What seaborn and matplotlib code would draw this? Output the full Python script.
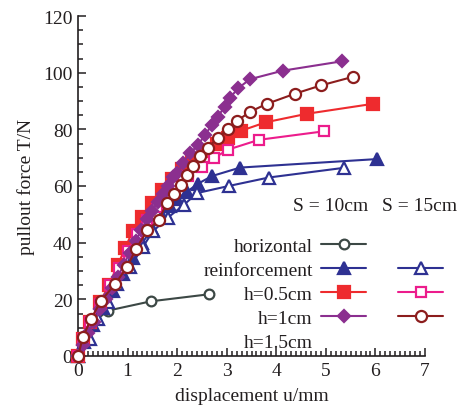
import matplotlib
matplotlib.use("Agg")
import matplotlib.pyplot as plt
import seaborn as sns
import pandas as pd
from matplotlib.lines import Line2D
from matplotlib.ticker import MultipleLocator

# ---- data ----
horiz_x = [0, 0.1, 0.25, 0.6, 1.47, 2.65]
horiz_y = [0, 5, 11, 16, 19.3, 21.8]

tri10_x = [0, 0.12, 0.3, 0.5, 0.7, 0.9, 1.1, 1.3, 1.5, 1.7, 1.85, 2.0, 2.2, 2.42, 2.7, 3.27, 6.03]
tri10_y = [0, 5, 11, 17, 23, 29, 34.5, 40, 45, 49.5, 53, 55.5, 58, 60.8, 63.5, 66.5, 69.5]

tri15_x = [0, 0.24, 0.4, 0.6, 0.79, 1.05, 1.31, 1.51, 1.81, 2.14, 2.4, 3.04, 3.85, 5.36]
tri15_y = [0, 6, 13, 19, 25.4, 31.4, 38.5, 44, 48.8, 53.4, 57.5, 60, 63, 66.4]

sq10_x = [0, 0.1, 0.25, 0.45, 0.62, 0.8, 0.95, 1.1, 1.3, 1.5, 1.7, 1.9, 2.1, 2.3, 2.55, 2.8, 3.02, 3.29, 3.79, 4.62, 5.95]
sq10_y = [0, 6, 12, 19, 25, 32, 38, 44, 49, 54, 58.5, 62.5, 66, 69.5, 72.5, 75, 77, 79.5, 82.5, 85.5, 89]

sq15_x = [0, 0.1, 0.25, 0.45, 0.65, 0.82, 1.0, 1.2, 1.4, 1.6, 1.8, 2.0, 2.22, 2.5, 2.74, 3.02, 3.65, 4.96]
sq15_y = [0, 6, 12, 18.5, 25, 31, 37, 43, 48, 52.5, 56.5, 60, 63.6, 66.8, 69.8, 72.8, 76.3, 79.3]

dia10_x = [0, 0.1, 0.2, 0.32, 0.45, 0.56, 0.68, 0.8, 0.92, 1.04, 1.16, 1.28, 1.39, 1.49, 1.61, 1.71,
           1.81, 1.92, 2.0, 2.12, 2.26, 2.42, 2.56, 2.7, 2.82, 2.96, 3.06, 3.23, 3.47, 4.13, 5.32]
dia10_y = [0, 4, 8, 12, 16.5, 20, 24, 28, 32, 36.5, 40.5, 44.5, 48.4, 51.2, 54.4, 57.2,
           60, 63.2, 64.5, 68, 71.5, 74.5, 78, 81.5, 84.5, 88, 91, 94.5, 97.7, 100.7, 104]

cir15_x = [0, 0.1, 0.26, 0.46, 0.75, 0.99, 1.17, 1.4, 1.63, 1.79, 1.94, 2.07, 2.2, 2.32, 2.46, 2.62,
           2.82, 3.02, 3.21, 3.47, 3.81, 4.38, 4.9, 5.54]
cir15_y = [0, 6.7, 13, 19.4, 25.4, 31.4, 37.8, 44.3, 48, 54, 57.2, 60.4, 63.8, 67, 70.5, 73.5,
           77, 80, 83, 86.2, 89, 92.6, 95.5, 98.5]

row_labels = ["horizontal", "reinforcement", "h=0.5cm", "h=1cm", "h=1.5cm"]
col_headers = ["S = 10cm", "S = 15cm"]
x_ticks = [0, 1, 2, 3, 4, 5, 6, 7]
y_ticks = [0, 20, 40, 60, 80, 100, 120]

# ---- styles ----
C_GRAY = "#3c4845"
C_NAVY = "#2e3192"
C_RED = "#ee2b2e"
C_PINK = "#ec1c8c"
C_PURPLE = "#8b2f8f"
C_BROWN = "#8c1d1d"
FS = 14

sns.set_style("ticks")
plt.rcParams["font.family"] = ["Liberation Serif", "DejaVu Serif"]
plt.rcParams["text.color"] = "#231f20"
plt.rcParams["axes.labelcolor"] = "#231f20"
plt.rcParams["xtick.color"] = "#231f20"
plt.rcParams["ytick.color"] = "#231f20"

fig = plt.figure(figsize=(4.59, 4.10), dpi=100)
ax = fig.add_axes([78 / 459, 53 / 410, 347 / 459, 340 / 410])

series = [
    (horiz_x, horiz_y, C_GRAY, "o", "white", 7),
    (tri10_x, tri10_y, C_NAVY, "^", C_NAVY, 8.5),
    (tri15_x, tri15_y, C_NAVY, "^", "white", 8.5),
    (sq10_x, sq10_y, C_RED, "s", C_RED, 8),
    (sq15_x, sq15_y, C_PINK, "s", "white", 7.5),
    (dia10_x, dia10_y, C_PURPLE, "D", C_PURPLE, 6),
    (cir15_x, cir15_y, C_BROWN, "o", "white", 8),
]

for i, (xs, ys, col, mk, fc, ms) in enumerate(series):
    df = pd.DataFrame({"x": xs, "y": ys})
    sns.lineplot(data=df, x="x", y="y", ax=ax, sort=False, color=col, lw=1.5,
                 marker=mk, markersize=ms, markerfacecolor=fc, markeredgecolor=col,
                 markeredgewidth=1.6, clip_on=False, zorder=3 + i)

ax.set_xlim(0, 7)
ax.set_ylim(0, 120)
ax.set_xticks(x_ticks)
ax.set_yticks(y_ticks)
ax.xaxis.set_minor_locator(MultipleLocator(0.1))
ax.yaxis.set_minor_locator(MultipleLocator(5))
ax.tick_params(which="both", direction="in", labelsize=FS, width=1.1)
ax.tick_params(which="major", length=6)
ax.tick_params(which="minor", length=3.5)
ax.tick_params(axis="x", pad=4)
ax.tick_params(axis="y", pad=4)
for s in ["top", "right"]:
    ax.spines[s].set_visible(False)
for s in ["left", "bottom"]:
    ax.spines[s].set_linewidth(1.2)
    ax.spines[s].set_color("#231f20")

ax.set_xlabel("displacement u/mm", fontsize=FS, labelpad=6)
ax.set_ylabel("pullout force T/N", fontsize=FS, labelpad=6)

# ---- legend ----
def h(col, mk, fc, ms):
    return Line2D([], [], color=col, lw=1.5, marker=mk, markersize=ms,
                  markerfacecolor=fc, markeredgecolor=col, markeredgewidth=1.6)

blank = Line2D([], [], linestyle="none")
handles = [
    h(C_GRAY, "o", "white", 7),
    h(C_NAVY, "^", C_NAVY, 8.5),
    h(C_RED, "s", C_RED, 8),
    h(C_PURPLE, "D", C_PURPLE, 6),
    blank,
    blank,
    h(C_NAVY, "^", "white", 8.5),
    h(C_PINK, "s", "white", 7.5),
    h(C_BROWN, "o", "white", 8),
    blank,
]
labels = row_labels + ["", "", "", "", ""]
leg = ax.legend(handles, labels, ncol=2, markerfirst=False, frameon=False,
                fontsize=FS, handlelength=2.3, handletextpad=0.45, columnspacing=1.2,
                labelspacing=0.33, borderpad=0, borderaxespad=0,
                loc="upper right", bbox_to_anchor=(443 / 459, (410 - 238) / 410),
                bbox_transform=fig.transFigure)

fig.text(331 / 459, (410 - 207) / 410, col_headers[0], ha="center", va="center", fontsize=FS)
fig.text(420 / 459, (410 - 207) / 410, col_headers[1], ha="center", va="center", fontsize=FS)

fig.savefig("out.png", dpi=100)
